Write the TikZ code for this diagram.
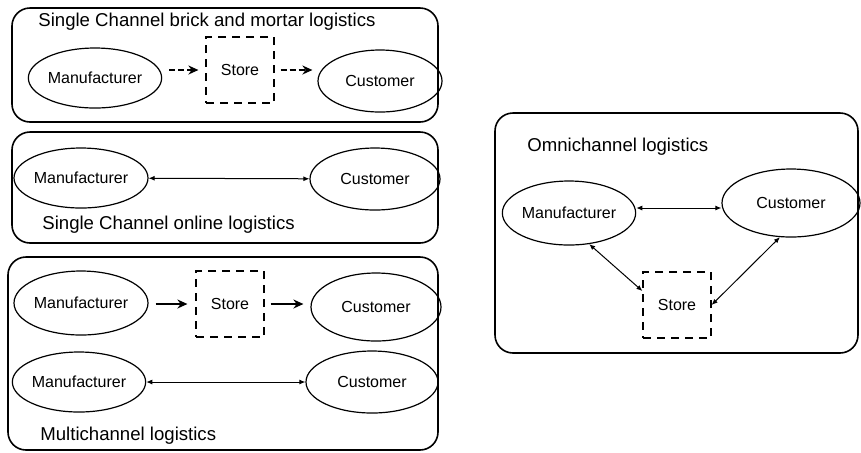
\documentclass[tikz,border=0pt]{standalone}
\usepackage{fontspec}
\setmainfont{Liberation Sans}
\usetikzlibrary{shapes.geometric,arrows.meta}

\begin{document}
\begin{tikzpicture}[x=0.5pt, y=-0.5pt,
    frame_box/.style={draw, line width=0.8pt, rounded corners=9pt},
    title_node/.style={anchor=west, inner sep=0pt, font=\fontsize{9.3}{11}\selectfont},
    party_node/.style={ellipse, draw, line width=0.6pt, inner sep=0pt, minimum width=#1, minimum height=30pt, font=\fontsize{8}{9.6}\selectfont},
    store_node/.style={draw, dash pattern=on 4pt off 3pt, line width=0.6pt, minimum width=34pt, minimum height=33pt, inner sep=0pt, font=\fontsize{8}{9.6}\selectfont},
    flow/.style={-{Stealth[length=5pt,width=4.5pt]}, line width=0.9pt},
    flow_dashed/.style={flow, dash pattern=on 3pt off 1.5pt},
    link/.style={{Latex[length=3pt,width=2.5pt]}-{Latex[length=3pt,width=2.5pt]}, line width=0.5pt}]

    \useasboundingbox (0,0) rectangle (861,452);

    % the four frames
    \draw[frame_box] (12,8) rectangle (438,122);
    \draw[frame_box] (12,132) rectangle (438,243);
    \draw[frame_box] (8,257) rectangle (438,450);
    \draw[frame_box] (495,113) rectangle (858,353);

    % brick and mortar
    \node[title_node] (t1) at (38,22) {Single Channel brick and mortar logistics};
    \node[party_node=63pt] (m1) at (95,78) {Manufacturer};
    \node[store_node] (s1) at (240,70) {Store};
    \node[party_node=62pt, minimum height=31pt] (c1) at (380,81) {Customer};
    \draw[flow_dashed, shorten <=3.5pt, shorten >=3.5pt] (m1.east |- s1) -- (s1);
    \draw[flow_dashed, shorten <=3pt, shorten >=2.5pt] (s1) -- (c1.west |- s1);

    % online
    \node[party_node=67pt] (m2) at (81,178) {Manufacturer};
    \node[party_node=65pt, minimum height=31pt] (c2) at (375,179) {Customer};
    \draw[link] (m2) -- (c2);
    \node[title_node] (t2) at (42,225) {Single Channel online logistics};

    % multichannel
    \node[party_node=67pt, minimum height=32pt] (m3) at (81,303) {Manufacturer};
    \node[store_node] (s3) at (230,304) {Store};
    \node[party_node=65pt, minimum height=34pt] (c3) at (376,307) {Customer};
    \draw[flow, shorten <=3.5pt, shorten >=4pt] (m3.east |- s3) -- (s3);
    \draw[flow, shorten <=3pt, shorten >=3.5pt] (s3) -- (c3.west |- s3);
    \node[party_node=65pt] (m3b) at (79,382) {Manufacturer};
    \node[party_node=66pt, minimum height=31pt] (c3b) at (372,382) {Customer};
    \draw[link] (m3b) -- (c3b);
    \node[title_node] (t3) at (40,436) {Multichannel logistics};

    % omnichannel
    \node[title_node] (t4) at (527,147) {Omnichannel logistics};
    \node[party_node=64pt, minimum height=32pt] (m4) at (569,213) {Manufacturer};
    \node[party_node=69pt, minimum height=34pt] (c4) at (791,203) {Customer};
    \node[store_node] (s4) at (677,305) {Store};
    \coordinate (mc) at (677,208);
    \draw[link] (m4.east |- mc) -- (c4.west |- mc);
    \draw[link] (m4.-57) -- (s4.158);
    \draw[link] (c4.-108) -- (s4.east);
\end{tikzpicture}
\end{document}
